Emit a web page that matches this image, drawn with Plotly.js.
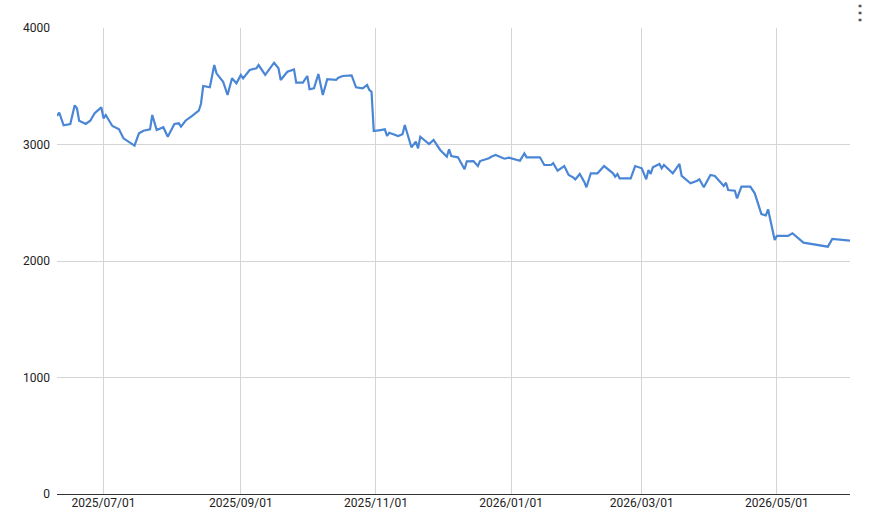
<!DOCTYPE html>
<html>
<head>
<meta charset="utf-8">
<script src="https://cdn.plot.ly/plotly-3.0.1.min.js"></script>
<style>
  html, body { margin: 0; padding: 0; background: #fff; }
  #chart { width: 870px; height: 532px; }
</style>
</head>
<body>
<div id="chart"></div>
<script>
// values
const dates = [
  '2025-06-10', '2025-06-11', '2025-06-13', '2025-06-16', '2025-06-18', '2025-06-19', '2025-06-20',
  '2025-06-23', '2025-06-25', '2025-06-27', '2025-06-30', '2025-07-01', '2025-07-02', '2025-07-05',
  '2025-07-08', '2025-07-10', '2025-07-15', '2025-07-17', '2025-07-19', '2025-07-22', '2025-07-23',
  '2025-07-25', '2025-07-28', '2025-07-30', '2025-08-02', '2025-08-04', '2025-08-05', '2025-08-07',
  '2025-08-10', '2025-08-13', '2025-08-14', '2025-08-15', '2025-08-18', '2025-08-20', '2025-08-21',
  '2025-08-24', '2025-08-26', '2025-08-28', '2025-08-30', '2025-09-01', '2025-09-02', '2025-09-05',
  '2025-09-08', '2025-09-09', '2025-09-12', '2025-09-16', '2025-09-18', '2025-09-19', '2025-09-22',
  '2025-09-25', '2025-09-26', '2025-09-29', '2025-10-01', '2025-10-02', '2025-10-04', '2025-10-06',
  '2025-10-08', '2025-10-10', '2025-10-14', '2025-10-15', '2025-10-17', '2025-10-21', '2025-10-23',
  '2025-10-26', '2025-10-28', '2025-10-29', '2025-10-30', '2025-10-31', '2025-11-03', '2025-11-05',
  '2025-11-06', '2025-11-07', '2025-11-11', '2025-11-13', '2025-11-14', '2025-11-17', '2025-11-19',
  '2025-11-20', '2025-11-21', '2025-11-25', '2025-11-27', '2025-11-30', '2025-12-03', '2025-12-04',
  '2025-12-05', '2025-12-08', '2025-12-11', '2025-12-12', '2025-12-15', '2025-12-17', '2025-12-18',
  '2025-12-22', '2025-12-23', '2025-12-25', '2025-12-29', '2025-12-31', '2026-01-05', '2026-01-07',
  '2026-01-08', '2026-01-14', '2026-01-16', '2026-01-19', '2026-01-20', '2026-01-22', '2026-01-25',
  '2026-01-27', '2026-01-29', '2026-01-30', '2026-02-01', '2026-02-03', '2026-02-04', '2026-02-06',
  '2026-02-09', '2026-02-12', '2026-02-16', '2026-02-17', '2026-02-18', '2026-02-19', '2026-02-24',
  '2026-02-26', '2026-03-01', '2026-03-03', '2026-03-04', '2026-03-05', '2026-03-06', '2026-03-09',
  '2026-03-10', '2026-03-11', '2026-03-15', '2026-03-18', '2026-03-19', '2026-03-23', '2026-03-26',
  '2026-03-27', '2026-03-29', '2026-04-01', '2026-04-03', '2026-04-06', '2026-04-07', '2026-04-08',
  '2026-04-09', '2026-04-12', '2026-04-13', '2026-04-15', '2026-04-19', '2026-04-21', '2026-04-24',
  '2026-04-26', '2026-04-27', '2026-04-30', '2026-05-01', '2026-05-06', '2026-05-08', '2026-05-13',
  '2026-05-24', '2026-05-26', '2026-06-03'
];

const values = [
  3245, 3273, 3165, 3176, 3336, 3311, 3204,
  3176, 3204, 3268, 3319, 3225, 3253, 3159,
  3130, 3053, 2990, 3096, 3118, 3130, 3253,
  3124, 3148, 3067, 3176, 3182, 3153, 3204,
  3245, 3290, 3350, 3502, 3491, 3682, 3611,
  3539, 3425, 3568, 3525, 3597, 3568, 3639,
  3654, 3682, 3597, 3702, 3654, 3554, 3625,
  3645, 3531, 3531, 3588, 3474, 3482, 3605,
  3425, 3560, 3554, 3573, 3588, 3594, 3491,
  3482, 3511, 3468, 3453, 3116, 3124, 3130,
  3073, 3101, 3073, 3088, 3167, 2976, 3024,
  2967, 3067, 3004, 3039, 2953, 2895, 2959,
  2901, 2890, 2787, 2856, 2858, 2815, 2858,
  2882, 2895, 2910, 2878, 2887, 2861, 2924,
  2890, 2890, 2824, 2824, 2839, 2775, 2815,
  2738, 2718, 2701, 2747, 2681, 2633, 2753,
  2753, 2815, 2753, 2724, 2747, 2710, 2710,
  2815, 2796, 2701, 2781, 2747, 2804, 2833,
  2796, 2824, 2753, 2833, 2730, 2667, 2689,
  2701, 2633, 2738, 2730, 2672, 2644, 2672,
  2609, 2603, 2538, 2638, 2638, 2581, 2403,
  2391, 2444, 2180, 2215, 2215, 2238, 2157,
  2123, 2189, 2174
];

const yTicks = [0, 1000, 2000, 3000, 4000];
const xTicks = ['2025-07-01', '2025-09-01', '2025-11-01', '2026-01-01', '2026-03-01', '2026-05-01'];
const xTickText = ['2025/07/01', '2025/09/01', '2025/11/01', '2026/01/01', '2026/03/01', '2026/05/01'];

const traces = [
  {
    x: dates,
    y: values,
    type: 'scatter',
    mode: 'lines',
    line: { color: '#4a86d6', width: 2.2 },
    hoverinfo: 'x+y',
  },
];

const layout = {
  width: 870,
  height: 532,
  margin: { l: 57, r: 20, t: 28, b: 38 },
  paper_bgcolor: '#fff',
  plot_bgcolor: '#fff',
  showlegend: false,
  font: { family: 'Roboto, Arial, sans-serif', size: 12, color: '#222' },
  xaxis: {
    type: 'date',
    range: ['2025-06-10', '2026-06-03'],
    tickvals: xTicks,
    ticktext: xTickText,
    showgrid: true,
    gridcolor: '#d4d4d4',
    gridwidth: 1,
    zeroline: false,
    showline: false,
    ticks: '',
    tickfont: { size: 12, color: '#222' },
  },
  yaxis: {
    range: [0, 4000],
    tickvals: yTicks,
    ticktext: yTicks.map(String),
    showgrid: true,
    gridcolor: '#d4d4d4',
    gridwidth: 1,
    zeroline: true,
    zerolinecolor: '#333',
    zerolinewidth: 1.2,
    showline: false,
    ticks: '',
    ticklabelstandoff: 6,
    tickfont: { size: 12, color: '#222' },
  },
  annotations: [
    {
      text: '<b>⋮</b>',
      xref: 'paper', yref: 'paper',
      x: 1.0126, y: 1.034,
      xanchor: 'center', yanchor: 'middle',
      showarrow: false,
      font: { size: 20, color: '#555' },
    },
  ],
};

Plotly.newPlot(document.getElementById('chart'), traces, layout, { displayModeBar: false, responsive: false });
</script>
</body>
</html>
